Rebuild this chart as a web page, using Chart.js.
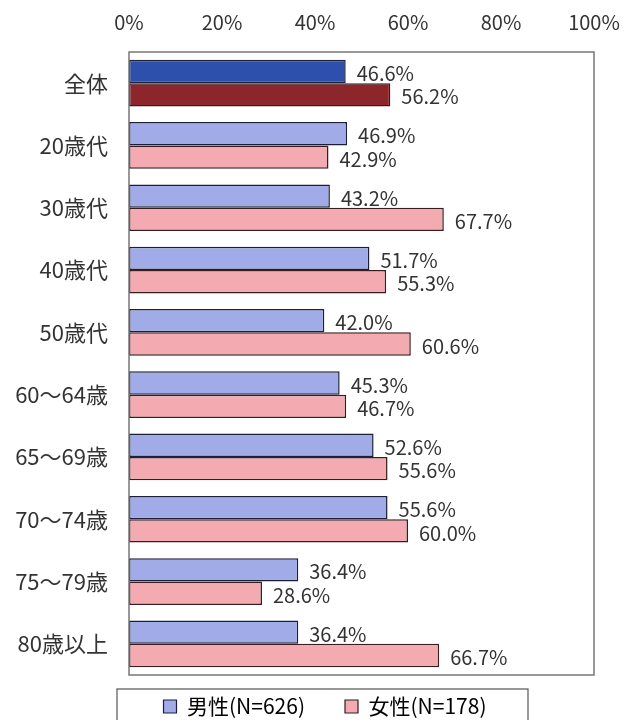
<!doctype html>
<html lang="ja">
<head>
<meta charset="utf-8">
<title>男女別・年代別</title>
<script src="https://cdn.jsdelivr.net/npm/chart.js"></script>
<style>
  body { margin: 0; background: #fff; }
  #wrap { width: 624px; height: 720px; position: relative; }
</style>
</head>
<body>
<div id="wrap"><canvas id="myChart"></canvas></div>
<script>
// datos
var categorias = ['全体', '20歳代', '30歳代', '40歳代', '50歳代', '60～64歳', '65～69歳', '70～74歳', '75～79歳', '80歳以上'];
var hombres = [46.6, 46.9, 43.2, 51.7, 42.0, 45.3, 52.6, 55.6, 36.4, 36.4];
var mujeres = [56.2, 42.9, 67.7, 55.3, 60.6, 46.7, 55.6, 60.0, 28.6, 66.7];
var etiquetas = ['男性(N=626)', '女性(N=178)'];
var ticksX = [0, 20, 40, 60, 80, 100];

var fuente = '"Noto Sans CJK JP", "Noto Sans", sans-serif';
var azulClaro = '#a1abe8', azulOscuro = '#2d50ac';
var rosaClaro = '#f3aab0', rosaOscuro = '#8d262b';

// el primer grupo (全体) va en color oscuro
var coloresH = categorias.map(function (c, i) { return i === 0 ? azulOscuro : azulClaro; });
var coloresM = categorias.map(function (c, i) { return i === 0 ? rosaOscuro : rosaClaro; });

// marco del area, valores al final de cada barra y recuadro de leyenda
var extras = {
  id: 'extras',
  afterLayout: function (chart) {
    // la leyenda va un poco mas abajo y a la derecha
    var lg = chart.legend;
    lg.top = 656; lg.bottom = 720;
    lg.left += 28; lg.right += 28;
  },
  afterDatasetsDraw: function (chart) {
    var ctx = chart.ctx;
    var a = chart.chartArea;
    ctx.save();
    ctx.strokeStyle = '#777';
    ctx.lineWidth = 1.5;
    ctx.strokeRect(a.left, a.top, a.right - a.left, a.bottom - a.top);
    ctx.fillStyle = '#333';
    ctx.font = '20px ' + fuente;
    ctx.textBaseline = 'middle';
    chart.data.datasets.forEach(function (ds, i) {
      chart.getDatasetMeta(i).data.forEach(function (bar, j) {
        ctx.fillText(ds.data[j].toFixed(1) + '%', bar.x + 11, bar.y + 2);
      });
    });
    ctx.strokeStyle = '#555';
    ctx.lineWidth = 1.2;
    ctx.strokeRect(117, 689, 411, 40);
    ctx.restore();
  }
};

var ctx = document.getElementById('myChart').getContext('2d');
var myChart = new Chart(ctx, {
  type: 'bar',
  data: {
    labels: categorias,
    datasets: [
      {
        label: etiquetas[0],
        data: hombres,
        backgroundColor: coloresH,
        borderColor: '#1c1f38',
        borderWidth: 1.5,
        borderSkipped: false,
        categoryPercentage: 0.75,
        barPercentage: 1.0
      },
      {
        label: etiquetas[1],
        data: mujeres,
        backgroundColor: coloresM,
        borderColor: '#381c1e',
        borderWidth: 1.5,
        borderSkipped: false,
        categoryPercentage: 0.75,
        barPercentage: 1.0
      }
    ]
  },
  options: {
    indexAxis: 'y',
    responsive: true,
    maintainAspectRatio: false,
    animation: false,
    layout: { padding: { left: 0, right: 30, top: 0, bottom: 0 } },
    plugins: {
      tooltip: { enabled: false },
      legend: {
        position: 'bottom',
        maxHeight: 45,
        labels: {
          color: '#222',
          font: { family: fuente, size: 21 },
          boxWidth: 13,
          boxHeight: 13,
          padding: 40,
          generateLabels: function (chart) {
            return [
              { text: etiquetas[0], fillStyle: azulClaro, strokeStyle: '#1c1f38', lineWidth: 1.2, datasetIndex: 0 },
              { text: etiquetas[1], fillStyle: rosaClaro, strokeStyle: '#381c1e', lineWidth: 1.2, datasetIndex: 1 }
            ];
          }
        }
      }
    },
    scales: {
      x: {
        position: 'top',
        min: 0,
        max: 100,
        afterBuildTicks: function (scale) {
          scale.ticks = ticksX.map(function (v) { return { value: v }; });
        },
        afterFit: function (scale) {
          scale.height = 52;
          scale.paddingLeft = 0;
          scale.paddingRight = 0;
        },
        ticks: {
          color: '#333',
          font: { family: fuente, size: 20 },
          padding: 10,
          callback: function (v) { return v + '%'; }
        },
        grid: { display: false },
        border: { display: false }
      },
      y: {
        afterFit: function (scale) { scale.width = 129; },
        ticks: {
          color: '#333',
          font: { family: fuente, size: 22 },
          padding: 13
        },
        grid: { display: false },
        border: { display: false }
      }
    }
  },
  plugins: [extras]
});
</script>
</body>
</html>
